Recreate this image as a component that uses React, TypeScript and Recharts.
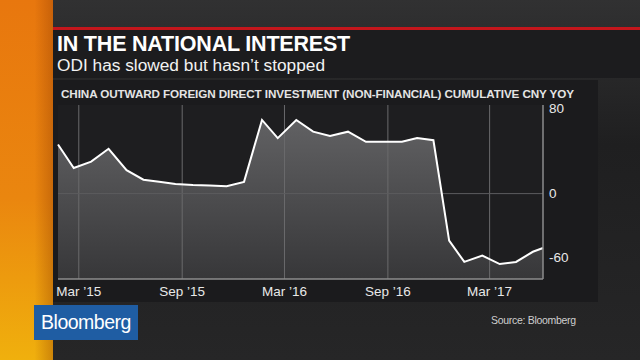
import {
  Area,
  ComposedChart,
  Line,
  ReferenceLine,
  XAxis,
  YAxis,
} from "recharts";

// monthly readings, cumulative CNY yoy %
const dates = [
  "2015-01-23", "2015-02-20", "2015-03-23", "2015-04-23", "2015-05-25", "2015-06-24",
  "2015-07-22", "2015-08-20", "2015-09-20", "2015-10-20", "2015-11-19", "2015-12-20",
  "2016-01-21", "2016-02-18", "2016-03-22", "2016-04-21", "2016-05-21", "2016-06-22",
  "2016-07-24", "2016-08-24", "2016-09-26", "2016-10-23", "2016-11-21", "2016-12-19",
  "2017-01-15", "2017-02-16", "2017-03-19", "2017-04-17", "2017-05-17", "2017-06-04",
];
const odiYoy = [
  46, 24, 30, 42, 22, 13, 11, 9, 8, 7.5, 7, 11,
  69, 52, 69, 58, 54, 58, 48.5, 48.5, 48.5, 52, 50, -44,
  -64, -58, -66, -64, -54.5, -51,
];

const xTickDates = ["2015-03-01", "2015-09-01", "2016-03-01", "2016-09-01", "2017-03-01"];
const xTickLabels = ["Mar \u201915", "Sep \u201915", "Mar \u201916", "Sep \u201916", "Mar \u201917"];
const yTicks = [80, 0, -60];

const toTime = (d: string) => new Date(d + "T00:00:00Z").getTime();

const data = dates.map((d, i) => ({ t: toTime(d), v: odiYoy[i] }));
const xTicks = xTickDates.map(toTime);
const labelFor = (t: number) => xTickLabels[xTicks.indexOf(t)] ?? "";

const sans = "'Liberation Sans', Arial, Helvetica, sans-serif";
const narrow = "'Liberation Sans Narrow', 'Arial Narrow', 'Liberation Sans', sans-serif";

export default function App() {
  return (
    <div
      style={{
        position: "absolute",
        left: 0,
        top: 0,
        width: 640,
        height: 360,
        overflow: "hidden",
        background: "linear-gradient(to bottom, #313132 0%, #1f1f20 40%, #262627 100%)",
        fontFamily: sans,
      }}
    >
      {/* left orange strip */}
      <div
        style={{
          position: "absolute",
          left: 0,
          top: 0,
          width: 53,
          height: 360,
          background:
            "linear-gradient(to right, rgba(0,0,0,0) 65%, rgba(140,55,0,0.35) 100%), linear-gradient(to bottom, #e8770e 0%, #ea860f 55%, #f0b00d 100%)",
        }}
      />
      {/* red rule */}
      <div style={{ position: "absolute", left: 53, top: 27, width: 587, height: 3, background: "#c4161c" }} />
      {/* title panel */}
      <div style={{ position: "absolute", left: 53, top: 30, width: 587, height: 48, background: "#1c1c1e" }} />
      <div
        style={{
          position: "absolute",
          left: 57,
          top: 33,
          color: "#ffffff",
          fontWeight: 700,
          fontSize: 21.5,
          lineHeight: "22px",
          letterSpacing: -0.2,
          whiteSpace: "nowrap",
        }}
      >
        IN THE NATIONAL INTEREST
      </div>
      <div
        style={{
          position: "absolute",
          left: 57,
          top: 56,
          color: "#f2f2f2",
          fontSize: 17.3,
          lineHeight: "19px",
          whiteSpace: "nowrap",
        }}
      >
        ODI has slowed but hasn{"\u2019"}t stopped
      </div>
      {/* chart panel */}
      <div style={{ position: "absolute", left: 53, top: 80, width: 545, height: 222, background: "#1b1b1d" }} />
      <div
        style={{
          position: "absolute",
          left: 61,
          top: 87,
          color: "#e4e4e4",
          fontFamily: narrow,
          fontWeight: 700,
          fontSize: 11.7,
          letterSpacing: -0.1,
          whiteSpace: "nowrap",
        }}
      >
        CHINA OUTWARD FOREIGN DIRECT INVESTMENT (NON-FINANCIAL) CUMULATIVE CNY YOY
      </div>
      <div style={{ position: "absolute", left: 58, top: 105, width: 485, height: 174, background: "#1e1e20" }} />

      <div style={{ position: "absolute", left: 43, top: 95 }}>
        <ComposedChart
          width={545}
          height={214}
          data={data}
          margin={{ top: 10, right: 0, bottom: 0, left: 15 }}
        >
          <defs>
            <linearGradient id="odiFill" x1="0" y1="0" x2="0" y2="1">
              <stop offset="0%" stopColor="#616163" />
              <stop offset="100%" stopColor="#373739" />
            </linearGradient>
          </defs>
          <XAxis
            dataKey="t"
            type="number"
            domain={["dataMin", "dataMax"]}
            ticks={xTicks}
            tickFormatter={labelFor}
            interval={0}
            height={30}
            axisLine={{ stroke: "#8c8c8c", strokeWidth: 1.5 }}
            tickLine={false}
            tickSize={0}
            tickMargin={7}
            tick={{ fill: "#e8e8e8", fontSize: 13.5, fontFamily: sans }}
          />
          <YAxis
            orientation="right"
            type="number"
            domain={[-80, 83]}
            ticks={yTicks}
            interval={0}
            width={45}
            axisLine={{ stroke: "#8c8c8c", strokeWidth: 1.5 }}
            tickLine={false}
            tickSize={0}
            tickMargin={6}
            tick={{ fill: "#e8e8e8", fontSize: 13.5, fontFamily: sans, textAnchor: "start" }}
          />
          <Area
            type="linear"
            dataKey="v"
            baseValue="dataMin"
            stroke="none"
            fill="url(#odiFill)"
            fillOpacity={1}
            isAnimationActive={false}
          />
          {xTicks.map((t) => (
            <ReferenceLine key={t} x={t} stroke="#6a6a6c" strokeWidth={1} />
          ))}
          <ReferenceLine y={0} stroke="#5c5c5e" strokeWidth={1} />
          <Line
            type="linear"
            dataKey="v"
            stroke="#ffffff"
            strokeWidth={2}
            dot={false}
            activeDot={false}
            isAnimationActive={false}
          />
        </ComposedChart>
      </div>

      {/* Bloomberg logo */}
      <div
        style={{
          position: "absolute",
          left: 34,
          top: 305,
          width: 104,
          height: 35,
          background: "#1f5da3",
          color: "#ffffff",
          fontSize: 19.5,
          letterSpacing: -0.5,
          lineHeight: "35px",
          textAlign: "center",
        }}
      >
        Bloomberg
      </div>
      <div
        style={{
          position: "absolute",
          left: 491,
          top: 314,
          color: "#cfcfcf",
          fontSize: 10.5,
          letterSpacing: -0.3,
          whiteSpace: "nowrap",
        }}
      >
        Source: Bloomberg
      </div>
    </div>
  );
}
